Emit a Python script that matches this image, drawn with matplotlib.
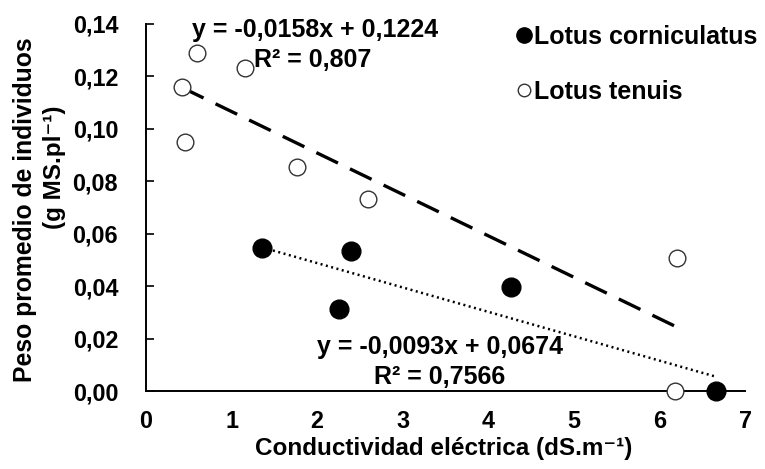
import matplotlib
matplotlib.use("Agg")
import matplotlib.pyplot as plt
import numpy as np

# ---- data ----
tenuis_x = [0.60, 1.16, 0.42, 0.45, 1.77, 2.59, 6.21, 6.18]
tenuis_y = [0.1288, 0.1231, 0.1158, 0.0951, 0.0855, 0.0732, 0.0509, 0.0]
cornic_x = [1.36, 2.40, 2.25, 4.27, 6.66]
cornic_y = [0.0547, 0.0535, 0.0311, 0.0397, 0.0]

tenuis_fit = [-0.0158, 0.1224]
tenuis_r2 = "0,807"
cornic_fit = [-0.0093, 0.0674]
cornic_r2 = "0,7566"

x_ticks = [0, 1, 2, 3, 4, 5, 6, 7]
y_ticks = [0.00, 0.02, 0.04, 0.06, 0.08, 0.10, 0.12, 0.14]

series_names = ["Lotus corniculatus", "Lotus tenuis"]
x_label = "Conductividad eléctrica (dS.m⁻¹)"
y_label1 = "Peso promedio de individuos"
y_label2 = "(g MS.pl⁻¹)"

# ---- figure ----
plt.rcParams['font.family'] = ['Liberation Sans', 'DejaVu Sans']
plt.rcParams['font.weight'] = 'bold'

W, H = 765, 469
fig = plt.figure(figsize=(W / 100, H / 100), dpi=100)

def fx(px):
    return px / W

def fy(py):
    return 1 - py / H

left, right, top, bottom = 146, 745, 24, 391
ax = fig.add_axes([fx(left), fy(bottom), fx(right) - fx(left), fy(top) - fy(bottom)])
ax.set_xlim(0, 7)
ax.set_ylim(0, 0.14)

for s in ['top', 'right']:
    ax.spines[s].set_visible(False)
for s in ['left', 'bottom']:
    ax.spines[s].set_linewidth(1.4)
    ax.spines[s].set_color('black')

fs = 16.8
ax.set_xticks(x_ticks)
ax.set_xticklabels([str(v) for v in x_ticks], fontsize=fs, fontweight='bold')
ax.set_yticks(y_ticks)
ax.set_yticklabels([f"{v:.2f}".replace('.', ',') for v in y_ticks], fontsize=fs, fontweight='bold')
ax.tick_params(axis='x', length=0, pad=14)
ax.tick_params(axis='y', direction='in', length=6, width=1.2, pad=20)

# trend lines
xt = np.array([min(tenuis_x), max(tenuis_x)])
ax.plot(xt, tenuis_fit[0] * xt + tenuis_fit[1], color='black', lw=2.4,
        linestyle=(0, (7.2, 4)), zorder=2)
xc = np.array([min(cornic_x), max(cornic_x)])
ax.plot(xc, cornic_fit[0] * xc + cornic_fit[1], color='black', lw=1.8,
        linestyle=(0, (0.8, 1.4)), zorder=2)

# scatter
ax.plot(cornic_x, cornic_y, 'o', color='black', markersize=13.5, linestyle='none',
        clip_on=False, zorder=4, label=series_names[0])
ax.plot(tenuis_x, tenuis_y, 'o', markerfacecolor='white', markeredgecolor='#333333',
        markeredgewidth=1.0, markersize=12, linestyle='none', clip_on=False, zorder=3,
        label=series_names[1])

# legend
leg = ax.legend(loc='upper left', bbox_to_anchor=(fx(515), fy(25)), bbox_transform=fig.transFigure,
                frameon=False, fontsize=18, handlelength=0.7, handletextpad=0.05,
                labelspacing=1.25, borderpad=0, borderaxespad=0, markerscale=1.0)
h = leg.legend_handles
h[0].set_markersize(11)
h[1].set_markersize(9)

# equations
def fmt(v, d):
    return f"{v:.{d}f}".replace('.', ',')

efs = 18
eq1 = f"y = {fmt(tenuis_fit[0], 4)}x + {fmt(tenuis_fit[1], 4)}"
eq2 = f"y = {fmt(cornic_fit[0], 4)}x + {fmt(cornic_fit[1], 4)}"
fig.text(fx(315), fy(30), eq1, ha='center', va='center', fontsize=efs, fontweight='bold')
fig.text(fx(313), fy(60), "R² = " + tenuis_r2, ha='center', va='center', fontsize=efs, fontweight='bold')
fig.text(fx(440), fy(347), eq2, ha='center', va='center', fontsize=efs, fontweight='bold')
fig.text(fx(440), fy(377), "R² = " + cornic_r2, ha='center', va='center', fontsize=efs, fontweight='bold')

# axis labels
fig.text(fx(444), fy(448), x_label, ha='center', va='center', fontsize=17.5, fontweight='bold')
fig.text(fx(25), fy(210), y_label1, ha='center', va='center', rotation=90, fontsize=17.8, fontweight='bold')
fig.text(fx(55), fy(167), y_label2, ha='center', va='center', rotation=90, fontsize=17.5, fontweight='bold')

fig.savefig("out.png", dpi=100)
